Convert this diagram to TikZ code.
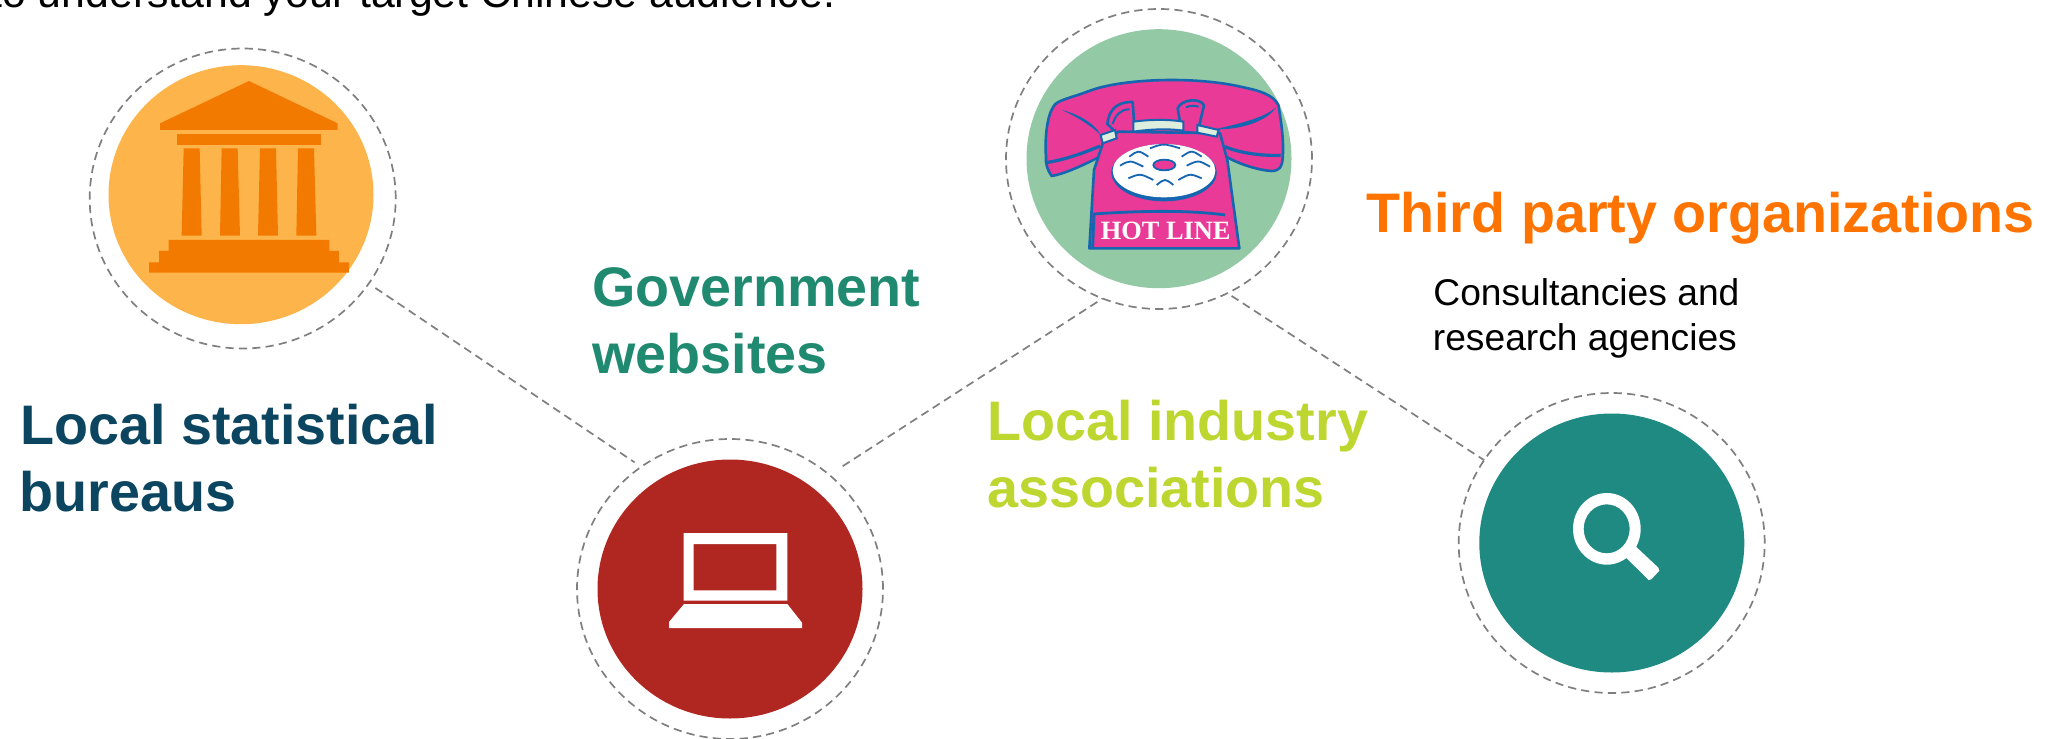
\documentclass[tikz,border=0pt]{standalone}
\usepackage{fontspec}
\setmainfont{Liberation Sans}
\newfontfamily\serifbold{Liberation Serif}
\usetikzlibrary{shapes.geometric}
\definecolor{ringgray}{HTML}{7F7F7F}
\definecolor{amberfill}{HTML}{FDB44B}
\definecolor{templeorange}{HTML}{F27A00}
\definecolor{mintfill}{HTML}{93C9A5}
\definecolor{brickred}{HTML}{B02621}
\definecolor{tealfill}{HTML}{1F8A82}
\definecolor{navytext}{HTML}{0B4560}
\definecolor{greentext}{HTML}{1F8A70}
\definecolor{limetext}{HTML}{BDD630}
\definecolor{orangetext}{HTML}{FF7300}
\definecolor{phonepink}{HTML}{E83A96}
\definecolor{phoneblue}{HTML}{1565B0}
\definecolor{cradlepale}{HTML}{DDEEDD}
\tikzset{
  x=0.5pt,y=-0.5pt,
  ringdash/.style={ellipse,draw=ringgray,line width=0.85pt,dash pattern=on 4.1pt off 2.6pt,minimum width=153pt,minimum height=150pt,inner sep=0pt,outer sep=0pt},
  disc/.style={ellipse,fill=#1,draw=none,minimum width=132.5pt,minimum height=129.5pt,inner sep=0pt},
  link/.style={draw=ringgray,line width=0.85pt,dash pattern=on 4.1pt off 2.6pt},
  headline/.style={anchor=base west,inner sep=0pt,font=\bfseries\fontsize{27.85}{27.85}\selectfont},
  bodyline/.style={anchor=base west,inner sep=0pt,font=\fontsize{18.6}{18.6}\selectfont,text=black},
  phoneline/.style={draw=phoneblue,line width=1.3pt,line join=round},
  cradle/.style={fill=cradlepale,draw=phoneblue,line width=1pt},
}
\begin{document}
\begin{tikzpicture}
\useasboundingbox (0,0) rectangle (2062,739);
\node[bodyline,font=\fontsize{21.4}{21.4}\selectfont] (intro) at (-10,7) {to understand your target Chinese audience.};

\node[ringdash] (ring1) at (242.7,198.5) {};
\node[disc=amberfill] (disc1) at (241,194.7) {};
\node[ringdash] (ring2) at (1159,159) {};
\node[disc=mintfill] (disc2) at (1159,158.7) {};
\node[ringdash] (ring3) at (730,589) {};
\node[disc=brickred] (disc3) at (730,589) {};
\node[ringdash] (ring4) at (1611.7,543) {};
\node[disc=tealfill] (disc4) at (1611.8,543) {};

\draw[link,shorten <=4pt,shorten >=4pt] (ring1.-34.3) -- (ring3.126.6);
\draw[link,shorten <=8pt] (ring3.49.1) -- (ring2.-112.9);
\draw[link,shorten <=2.5pt] (ring2.-63.9) -- (ring4.147.2);

% temple
\begin{scope}[shift={(60,0)},scale=1/3,fill=templeorange]
\fill (567,243) -- (833,370) -- (833,390) -- (300,390) -- (300,370) -- cycle;
\fill (352,402) rectangle (782,435);
\fill (371,445) -- (419,445) -- (425,707) -- (365,707) -- cycle;
\fill (485,445) -- (533,445) -- (540,707) -- (480,707) -- cycle;
\fill (600,445) -- (648,445) -- (654,707) -- (594,707) -- cycle;
\fill (714,445) -- (762,445) -- (769,707) -- (709,707) -- cycle;
\fill (326,720) -- (808,720) -- (808,753) -- (837,753) -- (837,787) -- (867,787) -- (867,818) -- (267,818) -- (267,787) -- (297,787) -- (297,753) -- (326,753) -- cycle;
\end{scope}

% telephone
\begin{scope}[shift={(990,0)},scale=1/3]
\draw[phoneline,fill=phonepink]
 (185,528) .. controls (172,510) and (166,490) .. (168,470)
 .. controls (164,420) and (170,350) .. (190,320)
 .. controls (200,300) and (240,295) .. (300,272)
 .. controls (400,235) and (620,228) .. (760,262)
 .. controls (810,272) and (850,285) .. (865,315)
 .. controls (875,370) and (882,430) .. (878,475)
 .. controls (876,500) and (870,512) .. (845,513)
 .. controls (800,510) and (740,490) .. (700,465)
 -- (330,470) .. controls (290,490) and (230,520) .. (185,528) -- cycle;
\draw[phoneblue,line width=1.6pt] (168,488) .. controls (220,480) and (280,460) .. (330,438);
\draw[phoneblue,line width=1.6pt] (705,440) .. controls (750,460) and (820,468) .. (872,466);
\fill[phoneblue] (215,330) .. controls (260,340) and (315,370) .. (332,405) .. controls (300,375) and (260,350) .. (215,330) -- cycle;
\fill[phoneblue] (858,322) .. controls (830,365) and (750,390) .. (675,388) .. controls (750,370) and (820,355) .. (858,322) -- cycle;
% prongs
\draw[phoneline,fill=phonepink]
 (352,372) .. controls (356,335) and (375,305) .. (428,306) -- (434,395) -- (380,400) -- cycle;
\draw[phoneline,fill=phonepink]
 (563,325) .. controls (573,298) and (630,292) .. (642,316) -- (622,400) -- (575,395) -- cycle;
\draw[phoneblue,line width=1pt] (368,372) .. controls (376,345) and (392,328) .. (418,328);
\draw[phoneblue,line width=1pt] (588,322) .. controls (600,316) and (615,316) .. (626,320);
% body
\draw[phoneline,fill=phonepink]
 (340,425) -- (385,395) -- (690,400) -- (712,480) -- (748,745) -- (298,745) -- (312,510) -- cycle;
% cradle
\draw[cradle] (430,365) .. controls (480,358) and (540,358) .. (580,365) -- (580,392) .. controls (530,385) and (480,388) .. (430,395) -- cycle;
\draw[cradle] (332,405) -- (375,390) -- (380,415) -- (338,430) -- cycle;
\draw[cradle] (622,375) -- (686,390) -- (680,410) -- (622,398) -- cycle;
% dial
\fill[phoneblue] (522,518) ellipse [x radius=158,y radius=86];
\fill[white] (522,512) ellipse [x radius=154,y radius=80];
\draw[fill=phonepink,draw=phoneblue,line width=0.9pt] (523,495) ellipse [x radius=33,y radius=16];
\foreach \a/\b/\c/\d/\e/\f in {418/470/445/450/475/470, 390/497/420/480/460/500, 415/535/450/520/490/540, 500/555/525/535/550/555, 565/540/600/520/635/535, 590/497/625/480/660/500, 575/470/605/450/635/470, 480/445/520/430/570/445}{
  \draw[phoneblue,line width=0.9pt] (\a,\b) .. controls (\c,\d) and (\c,\d) .. (\e,\f);
}
% label strip
\draw[phoneblue,line width=1.4pt] (705,645) .. controls (600,630) and (450,632) .. (312,642) -- (308,742);
\node[inner sep=0pt,anchor=base,text=white,font=\serifbold\bfseries\fontsize{13.2}{13.2}\selectfont] (hotline) at (527,718) {HOT LINE};
\end{scope}

% laptop
\begin{scope}[shift={(570,430)},scale=1/3]
\fill[white,even odd rule] (341,309) rectangle (652,512) (371,342) rectangle (619,481);
\fill[white] (342,522) -- (652,522) -- (696,578) -- (696,594) -- (297,594) -- (297,576) -- cycle;
\end{scope}

% magnifier
\begin{scope}[shift={(1450,390)},scale=1/3]
\fill[white,even odd rule] (470.5,416.5) ellipse [x radius=101.5,y radius=107.5] (470,416.5) ellipse [x radius=69,y radius=73.5];
\fill[white] (545,458) -- (625,533) -- (628,542) -- (604,568) -- (596,570) -- (520,495) -- cycle;
\end{scope}

\node[headline,text=navytext] (t1a) at (20,444) {Local statistical};
\node[headline,text=navytext] (t1b) at (19.5,511) {bureaus};
\node[headline,text=greentext] (t2a) at (592,306) {Government};
\node[headline,text=greentext] (t2b) at (592,373) {websites};
\node[headline,text=limetext] (t3a) at (987,440) {Local industry};
\node[headline,text=limetext] (t3b) at (987,507) {associations};
\node[headline,text=orangetext] (t4a) at (1366,232.7) {Third party organizations};
\node[bodyline] (t5a) at (1433,305) {Consultancies and};
\node[bodyline] (t5b) at (1432.5,350) {research agencies};
\end{tikzpicture}
\end{document}
